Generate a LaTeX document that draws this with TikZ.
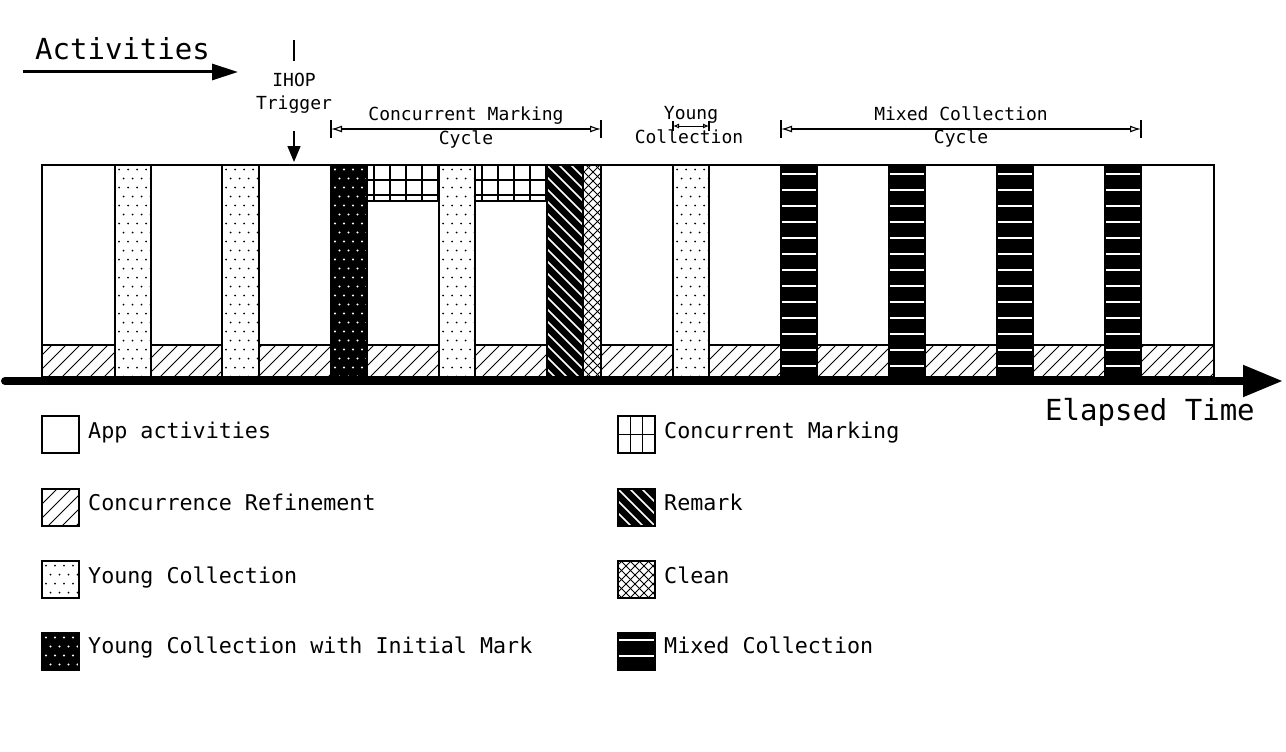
\documentclass[tikz,border=0pt]{standalone}
\usepackage{fontspec}
\setmainfont{DejaVu Sans Mono}
\usetikzlibrary{arrows.meta}
\newcommand\pHatch[4]{\begin{scope}\clip (#1,#2) rectangle (#3,#4);
  \foreach \i in {-50,-36,...,1200} \draw[line width=0.9pt] ({#1+\i},#4) -- ++(60,-60);
\end{scope}}
\newcommand\pYoung[4]{\fill[white] (#1,#2) rectangle (#3,#4);
  \begin{scope}\clip (#1,#2) rectangle (#3,#4);
  \foreach \r in {0,...,24}{\foreach \c in {0,...,4}{\fill[black] ({#1+4+\c*9+4.5*mod(\r,2)},{#2+4.5+\r*9}) circle (1pt);}}
  \end{scope}\draw[bd] (#1,#2) rectangle (#3,#4);}
\newcommand\pYCIM[4]{\fill[black] (#1,#2) rectangle (#3,#4);
  \begin{scope}\clip (#1,#2) rectangle (#3,#4);
  \foreach \r in {0,...,24}{\foreach \c in {0,...,4}{\fill[white] ({#1+4+\c*9+4.5*mod(\r,2)},{#2+4.5+\r*9}) circle (1.1pt);}}
  \end{scope}\draw[bd] (#1,#2) rectangle (#3,#4);}
\newcommand\pRemark[4]{\fill[black] (#1,#2) rectangle (#3,#4);
  \begin{scope}\clip (#1,#2) rectangle (#3,#4);
  \foreach \i in {-240,-228,...,40} \draw[white,line width=1.6pt] ({#1+\i},#2) -- ++(260,260);
  \end{scope}\draw[bd] (#1,#2) rectangle (#3,#4);}
\newcommand\pClean[4]{\fill[white] (#1,#2) rectangle (#3,#4);
  \begin{scope}\clip (#1,#2) rectangle (#3,#4);
  \foreach \i in {-240,-231,...,40} {\draw[line width=1pt] ({#1+\i},#2) -- ++(260,260);
    \draw[line width=1pt] ({#1+\i},#4) -- ++(260,-260);}
  \end{scope}\draw[bd] (#1,#2) rectangle (#3,#4);}
\newcommand\pMixed[5]{\fill[black] (#1,#2) rectangle (#3,#4);
  \begin{scope}\clip (#1,#2) rectangle (#3,#4);
  \foreach \j in {0,...,13} \draw[white,line width=1.6pt] (#1,{#2+#5+16*\j}) -- (#3,{#2+#5+16*\j});
  \end{scope}\draw[bd] (#1,#2) rectangle (#3,#4);}
\newcommand\pGrid[8]{\fill[white] (#1,#2) rectangle (#3,#4);
  \begin{scope}\clip (#1,#2) rectangle (#3,#4);
  \foreach \k in {0,...,9} \draw[line width=1.4pt] ({#1+#5+\k*#6},#2) -- ({#1+#5+\k*#6},#4);
  \foreach \k in {0,...,5} \draw[line width=1.4pt] (#1,{#2+#7+\k*#8}) -- (#3,{#2+#7+\k*#8});
  \end{scope}\draw[line width=1.8pt] (#1,#2) rectangle (#3,#4);}
\begin{document}
\begin{tikzpicture}[x=1pt,y=-1pt,
  bd/.style={line width=1.3pt},
  lbl/.style={font=\fontsize{18}{20}\selectfont, anchor=base, inner sep=0pt},
  leg/.style={font=\fontsize{21.7}{24}\selectfont, anchor=base west, inner sep=0pt},
  big/.style={font=\fontsize{29}{32}\selectfont, anchor=base west, inner sep=0pt},
  dimline/.style={line width=1.1pt, {Latex[open,length=11pt,width=7pt]}-{Latex[open,length=11pt,width=7pt]}},
  ]
\useasboundingbox (0,0) rectangle (1286,752);
\fill[white] (0,0) rectangle (1286,752);

% main band
\fill[white] (42,165) rectangle (1214,377);
\pHatch{42}{345}{1214}{377}
\draw[bd] (42,345) -- (1214,345);
\pYoung{115}{165}{151}{377}
\pYoung{222}{165}{259}{377}
\pYoung{439}{165}{475}{377}
\pYoung{673}{165}{709}{377}
\pYCIM{331}{165}{367}{377}
\pRemark{547}{165}{583}{377}
\pClean{583}{165}{601}{377}
\pMixed{781}{165}{817}{377}{9}
\pMixed{889}{165}{925}{377}{9}
\pMixed{997}{165}{1033}{377}{9}
\pMixed{1105}{165}{1141}{377}{9}
\pGrid{367}{165}{439}{201}{7}{16}{15}{15}
\pGrid{475}{165}{547}{201}{7}{16}{15}{15}
\draw[bd] (42,165) rectangle (1214,377);

% time axis
\coordinate (ax0) at (5,381);
\coordinate (ax1) at (1283,381);
\draw[line width=8pt, line cap=round, -{Triangle[length=40pt,width=30pt]}] (ax0) -- (ax1);
\node[big] (elapsed) at (1045,420) {Elapsed Time};

% activities
\node[big] (act) at (35,60) {Activities};
\coordinate (ac0) at (23,72);
\coordinate (ac1) at (238,72);
\draw[line width=3pt, -{Triangle[length=26pt,width=16pt]}] (ac0) -- (ac1);

% IHOP trigger
\coordinate (ih0) at (294,40);
\coordinate (ih1) at (294,61);
\draw[line width=1.3pt] (ih0) -- (ih1);
\node[lbl] (ihop) at (294,87) {IHOP};
\node[lbl] (trig) at (294,110) {Trigger};
\coordinate (ih2) at (294,131);
\coordinate (ih3) at (294,162);
\draw[line width=1.5pt, -{Triangle[length=16pt,width=13pt]}] (ih2) -- (ih3);

% concurrent marking cycle
\coordinate (cmL) at (331,129);
\coordinate (cmR) at (601,129);
\draw[dimline] (cmL) -- (cmR);
\draw[line width=1.5pt] (cmL) +(0,-9) -- +(0,9);
\draw[line width=1.5pt] (cmR) +(0,-9) -- +(0,9);
\node[lbl] (cmt1) at (466,121) {Concurrent Marking};
\node[lbl] (cmt2) at (466,144) {Cycle};

% young collection
\coordinate (ycL) at (673,126);
\coordinate (ycR) at (709,126);
\draw[line width=1pt, {Latex[open,length=6pt,width=5pt]}-{Latex[open,length=6pt,width=5pt]}] (ycL) -- (ycR);
\draw[line width=1.2pt] (ycL) +(0,-5) -- +(0,5);
\draw[line width=1.2pt] (ycR) +(0,-5) -- +(0,5);
\node[lbl] (yct1) at (691,119) {Young};
\node[lbl] (yct2) at (689,143) {Collection};

% mixed collection cycle
\coordinate (mxL) at (781,129);
\coordinate (mxR) at (1141,129);
\draw[dimline] (mxL) -- (mxR);
\draw[line width=1.5pt] (mxL) +(0,-9) -- +(0,9);
\draw[line width=1.5pt] (mxR) +(0,-9) -- +(0,9);
\node[lbl] (mxt1) at (961,121) {Mixed Collection};
\node[lbl] (mxt2) at (961,143) {Cycle};

% legend left
\fill[white] (42,416) rectangle (79,453);
\draw[bd] (42,416) rectangle (79,453);
\node[leg] (l1) at (88,438) {App activities};
\fill[white] (42,489) rectangle (79,526);
\pHatch{42}{489}{79}{526}
\draw[bd] (42,489) rectangle (79,526);
\node[leg] (l2) at (88,510) {Concurrence Refinement};
\pYoung{42}{561}{79}{598}
\node[leg] (l3) at (88,583) {Young Collection};
\pYCIM{42}{633}{79}{670}
\node[leg] (l4) at (88,653) {Young Collection with Initial Mark};

% legend right
\pGrid{618}{416}{655}{453}{12.33}{12.33}{18.5}{18.5}
\node[leg] (r1) at (664,438) {Concurrent Marking};
\pRemark{618}{489}{655}{526}
\node[leg] (r2) at (664,510) {Remark};
\pClean{618}{561}{655}{598}
\node[leg] (r3) at (664,583) {Clean};
\pMixed{618}{633}{655}{670}{7}
\node[leg] (r4) at (664,653) {Mixed Collection};
\end{tikzpicture}
\end{document}
